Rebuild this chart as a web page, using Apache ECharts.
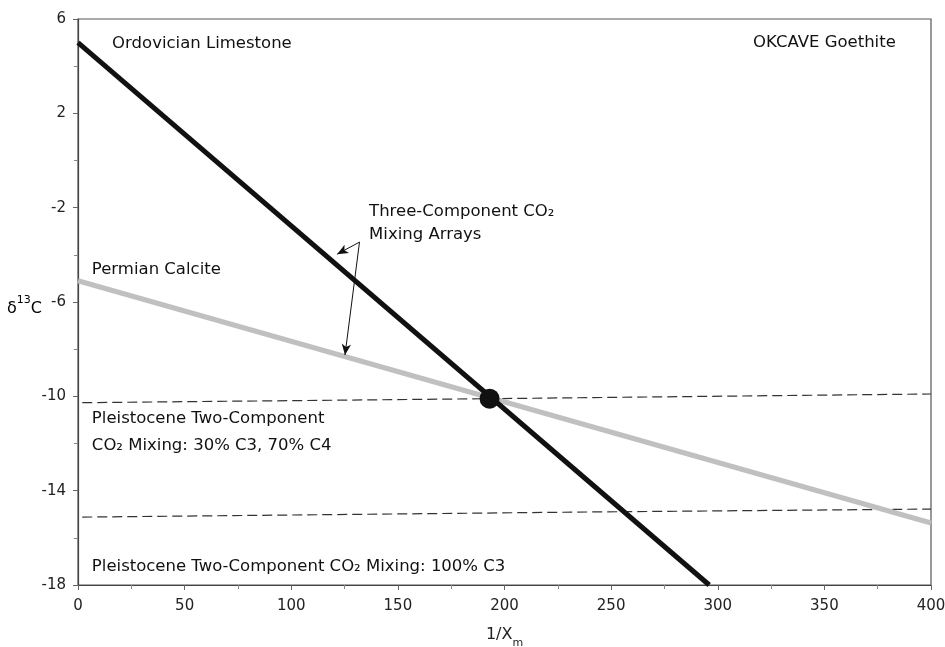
<!DOCTYPE html>
<html><head><meta charset="utf-8">
<script src="https://cdn.jsdelivr.net/npm/echarts@6/dist/echarts.min.js"></script>
<style>html,body{margin:0;padding:0;background:#fff}#c{width:945px;height:647px}</style>
</head><body><div id="c"></div>
<script>
// Data (x = 1/Xm, y = δ13C)
const ordovician = [[0, 5.0], [296, -18.0]];
const permian = [[0, -5.1], [400, -15.37]];
const pleist3070 = [[2, -10.27], [193, -10.1], [400, -9.9]];
const pleist100 = [[2, -15.12], [245, -14.9], [400, -14.78]];
const intersection = [[193, -10.1]];
const arrowFrom = [132, -3.46];
const arrowTips = [[121.5, -3.97], [125.2, -8.25]];
const xTicks = {min: 0, max: 400, step: 50};
const yTicks = {min: -18, max: 6, step: 4};
const labels = [
  {text: 'Ordovician Limestone', at: [16, 4.94]},
  {text: 'OKCAVE Goethite', at: [383.5, 4.98], align: 'right'},
  {text: 'Three-Component CO₂', at: [136.5, -2.18]},
  {text: 'Mixing Arrays', at: [136.5, -3.16]},
  {text: 'Permian Calcite', at: [6.5, -4.64]},
  {text: 'Pleistocene Two-Component', at: [6.5, -10.96]},
  {text: 'CO₂ Mixing: 30% C3, 70% C4', at: [6.5, -12.11]},
  {text: 'Pleistocene Two-Component CO₂ Mixing: 100% C3', at: [6.5, -17.24]}
];

const FONT = 'DejaVu Sans';
const chart = echarts.init(document.getElementById('c'));
const axisCommon = {
  axisLine: {show: true, onZero: false, lineStyle: {color: '#444', width: 1.2}},
  axisTick: {show: true, inside: false, length: 5, lineStyle: {color: '#666'}},
  minorTick: {show: true, splitNumber: 2, length: 4, lineStyle: {color: '#888'}},
  splitLine: {show: false},
  axisLabel: {color: '#222', fontFamily: FONT, fontSize: 15}
};
const nameRich = {
  a: {fontFamily: FONT, fontSize: 16, color: '#222', verticalAlign: 'bottom', lineHeight: 22},
  s: {fontFamily: FONT, fontSize: 11, color: '#222', verticalAlign: 'top', lineHeight: 22, padding: [0, 0, 8, 0]}
};
chart.setOption({
  animation: false,
  grid: {left: 78, right: 14, top: 19, bottom: 62, containLabel: false, outerBoundsMode: 'none',
         show: true, borderColor: '#555', borderWidth: 1.2},
  graphic: [{
    type: 'text', x: 7, y: 306, silent: true,
    style: {text: '{a|δ}{s|13}{a|C}', rich: nameRich, verticalAlign: 'middle', align: 'left'}
  }],
  xAxis: Object.assign({}, axisCommon, {
    type: 'value', min: xTicks.min, max: xTicks.max, interval: xTicks.step,
    name: '{a|1/X}{s|m}', nameLocation: 'middle', nameGap: 42,
    nameTextStyle: {color: '#222', fontFamily: FONT, fontSize: 16,
      rich: {a: {fontFamily: FONT, fontSize: 16, color: '#222', verticalAlign: 'top', lineHeight: 22},
             s: {fontFamily: FONT, fontSize: 11, color: '#222', verticalAlign: 'bottom', lineHeight: 22, padding: [10, 0, 0, 0]}}},
    axisLabel: Object.assign({}, axisCommon.axisLabel, {margin: 14})
  }),
  yAxis: Object.assign({}, axisCommon, {
    type: 'value', min: yTicks.min, max: yTicks.max, interval: yTicks.step,
    axisLabel: Object.assign({}, axisCommon.axisLabel, {margin: 12})
  }),
  series: [
    {type: 'line', data: pleist3070, symbol: 'none', lineStyle: {color: '#333', width: 1.2, type: [10, 5]}, z: 2},
    {type: 'line', data: pleist100, symbol: 'none', lineStyle: {color: '#333', width: 1.2, type: [10, 5]}, z: 2},
    {type: 'line', data: permian, symbol: 'none', lineStyle: {color: '#c0c0c0', width: 5}, z: 3},
    {type: 'line', data: ordovician, symbol: 'none', lineStyle: {color: '#111', width: 5}, z: 4,
      markLine: {
        silent: true, symbol: ['none', 'arrow'], symbolSize: [7, 11],
        lineStyle: {color: '#111', width: 1, type: 'solid'}, label: {show: false},
        data: arrowTips.map(t => [{coord: arrowFrom}, {coord: t}])
      }},
    {type: 'scatter', data: intersection, symbolSize: 20, itemStyle: {color: '#111', opacity: 1}, z: 5},
    {type: 'scatter', symbolSize: 0, z: 6, silent: true, itemStyle: {opacity: 1},
      data: labels.map(l => ({value: l.at, label: {
        show: true, position: 'inside', formatter: l.text,
        align: l.align || 'left', verticalAlign: 'middle',
        color: '#111', fontFamily: FONT, fontSize: 16.5
      }}))}
  ]
});
</script></body></html>
